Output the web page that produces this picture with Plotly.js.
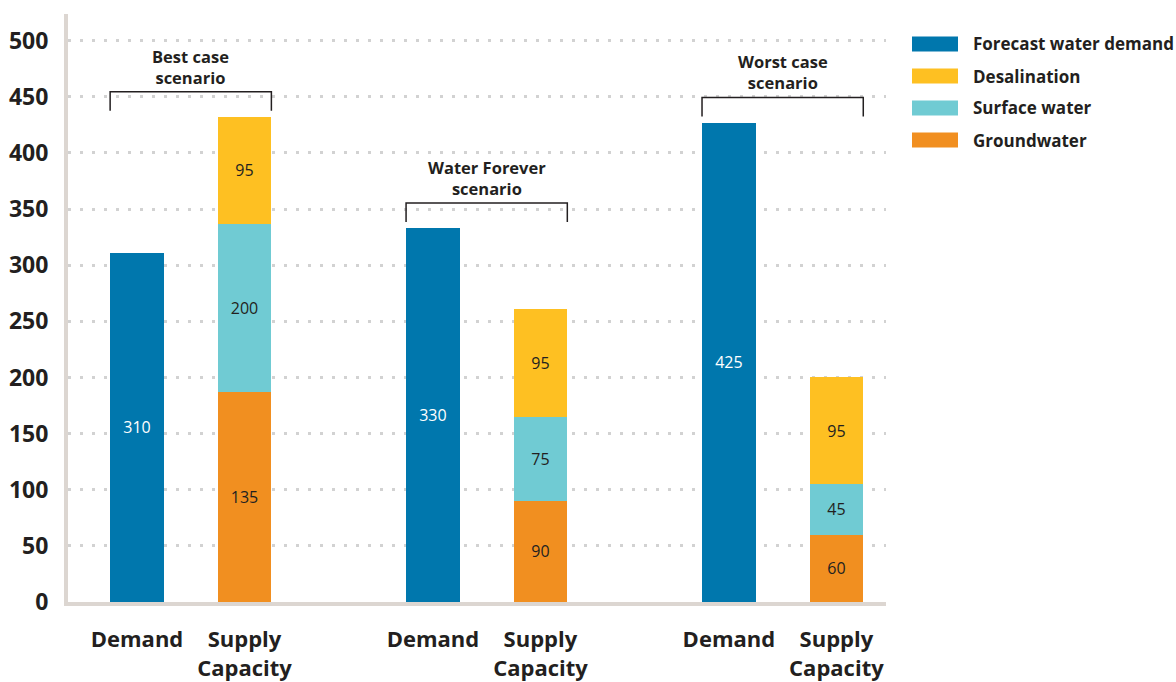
<!DOCTYPE html>
<html>
<head>
<meta charset="utf-8">
<script src="https://cdn.plot.ly/plotly-3.0.1.min.js"></script>
<style>html,body{margin:0;padding:0;background:#fff;}#chart{width:1176px;height:682px;}</style>
</head>
<body>
<div id="chart"></div>
<script>
// ---- data ----
const scenarios = ['Best case<br>scenario', 'Water Forever<br>scenario', 'Worst case<br>scenario'];
const barLabels = ['Demand', 'Supply<br>Capacity'];
const demandValues = [311, 333, 427];
const demandLabels = ['310', '330', '425'];
const groundwaterValues = [187, 90, 60];
const groundwaterLabels = ['135', '90', '60'];
const surfaceValues = [150, 75, 45];
const surfaceLabels = ['200', '75', '45'];
const desalValues = [95, 96, 95];
const desalLabels = ['95', '95', '95'];
const seriesNames = ['Forecast water demand', 'Desalination', 'Surface water', 'Groundwater'];
const seriesColors = ['#0077ad', '#fec022', '#70cbd3', '#f18f20'];
const yTicks = [0, 50, 100, 150, 200, 250, 300, 350, 400, 450, 500];

// ---- layout constants ----
const G = 2.753;          // spacing between scenario groups (in bar units)
const BW = 0.5;           // bar width
const TXT = '#231f20';
const FONT = 'Open Sans';
const W = 1176, H = 682;
const M = {l: 68, r: 290, t: 14, b: 80};
const plotW = W - M.l - M.r, plotH = H - M.t - M.b;
const pxX = p => (p - M.l) / plotW;
const pxY = p => (H - M.b - p) / plotH;

const demandX = scenarios.map((s, g) => g * G);
const supplyX = scenarios.map((s, g) => g * G + 1);

const barTrace = (name, x, y, text, color, tcolor) => ({
  type: 'bar', name: name, x: x, y: y, text: text,
  width: BW, marker: {color: color, line: {width: 0}},
  textposition: 'inside', insidetextanchor: 'middle',
  textangle: 0,
  textfont: {family: FONT, size: 16, color: tcolor},
  hoverinfo: 'skip', showlegend: false
});

const data = [
  barTrace(seriesNames[0], demandX, demandValues, demandLabels, seriesColors[0], '#ffffff'),
  barTrace(seriesNames[3], supplyX, groundwaterValues, groundwaterLabels, seriesColors[3], TXT),
  barTrace(seriesNames[2], supplyX, surfaceValues, surfaceLabels, seriesColors[2], TXT),
  barTrace(seriesNames[1], supplyX, desalValues, desalLabels, seriesColors[1], TXT)
];

const shapes = [];
const annotations = [];
scenarios.forEach((s, g) => {
  const supplyTop = groundwaterValues[g] + surfaceValues[g] + desalValues[g];
  const top = Math.max(demandValues[g], supplyTop) + 22.5;
  const bot = top - 17;
  const x0 = demandX[g] - BW / 2, x1 = supplyX[g] + BW / 2;
  shapes.push({type: 'path', xref: 'x', yref: 'y',
    path: `M${x0},${bot} L${x0},${top} L${x1},${top} L${x1},${bot}`,
    line: {color: TXT, width: 1.5}});
  annotations.push({xref: 'x', yref: 'y', x: (demandX[g] + supplyX[g]) / 2, y: top,
    yanchor: 'bottom', xanchor: 'center', yshift: 1, text: s, showarrow: false,
    font: {family: FONT, size: 16.5, weight: 700, color: TXT}});
});

// legend drawn as boxes + text
const legendOrder = [0, 1, 2, 3];
legendOrder.forEach((k, i) => {
  const cy = 44 + i * 32;
  shapes.push({type: 'rect', xref: 'paper', yref: 'paper',
    x0: pxX(912), x1: pxX(958), y0: pxY(cy + 7.5), y1: pxY(cy - 7.5),
    fillcolor: seriesColors[k], line: {width: 0}});
  annotations.push({xref: 'paper', yref: 'paper', x: pxX(971), y: pxY(cy),
    xanchor: 'left', yanchor: 'middle', text: seriesNames[k], showarrow: false,
    font: {family: FONT, size: 17, weight: 700, color: TXT}});
});

const tickvals = [];
const ticktext = [];
scenarios.forEach((s, g) => {
  tickvals.push(demandX[g], supplyX[g]);
  ticktext.push(barLabels[0], barLabels[1]);
});

const layout = {
  width: W, height: H,
  margin: M,
  paper_bgcolor: '#ffffff', plot_bgcolor: '#ffffff',
  barmode: 'stack',
  showlegend: false,
  font: {family: FONT, color: TXT},
  xaxis: {
    range: [-(137 - M.l) / 107.5, (W - M.r - 137) / 107.5],
    tickvals: tickvals, ticktext: ticktext,
    tickfont: {family: FONT, size: 22, weight: 700, color: TXT},
    showgrid: false, zeroline: false,
    showline: true, linecolor: '#dcd6d1', linewidth: 4,
    ticks: '', ticklabelstandoff: 15,
    fixedrange: true
  },
  yaxis: {
    range: [0, plotH / ((602 - 40.7) / 500)],
    tickvals: yTicks,
    tickfont: {family: FONT, size: 23, weight: 700, color: TXT},
    showgrid: true, gridcolor: '#d2d2d2', gridwidth: 3, griddash: '3px,9px',
    zeroline: false,
    showline: true, linecolor: '#dcd6d1', linewidth: 4,
    ticks: '', ticklabelstandoff: 11,
    fixedrange: true
  },
  shapes: shapes,
  annotations: annotations
};

Plotly.newPlot('chart', data, layout, {displayModeBar: false, staticPlot: true});
</script>
</body>
</html>
